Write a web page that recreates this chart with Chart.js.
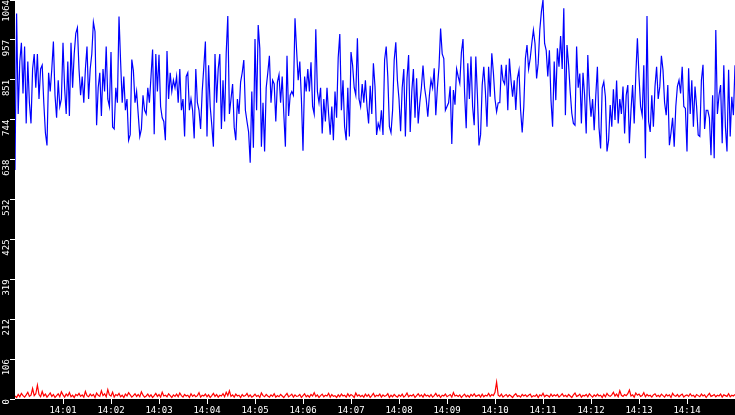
<!DOCTYPE html>
<html>
<head>
<meta charset="utf-8">
<script src="https://cdn.jsdelivr.net/npm/chart.js@4.4.1/dist/chart.umd.min.js"></script>
<style>
  html, body { margin: 0; padding: 0; background: #000; }
  #wrap { width: 735px; height: 415px; }
</style>
</head>
<body>
<div id="wrap"><canvas id="trafficChart" width="735" height="415"></canvas></div>
<script>
// one sample every 2 s, 14:00:00 -> 14:15:00
const SAMPLE_STEP = 2;

const blueValues = [
    611, 1028, 760, 900, 950, 815, 940, 735, 900, 790,
    735, 880, 920, 830, 920, 800, 880, 890, 790, 710,
    676, 870, 820, 880, 953, 810, 750, 850, 780, 800,
    950, 830, 760, 900, 755, 950, 830, 920, 975, 990,
    880, 810, 860, 790, 880, 940, 800, 880, 920, 1005,
    980, 730, 830, 870, 755, 880, 820, 940, 800, 780,
    925, 725, 720, 830, 790, 1020, 900, 790, 860, 770,
    800, 690, 705, 905, 875, 790, 820, 760, 700, 720,
    810, 770, 760, 830, 790, 860, 932, 706, 920, 820,
    918, 780, 750, 740, 690, 928, 800, 870, 820, 850,
    830, 860, 790, 880, 770, 800, 700, 860, 870, 770,
    800, 770, 695,
    880, 790, 770, 720, 820, 885, 953, 700, 890, 780,
    730, 673, 920, 790, 880, 920, 720, 850, 740, 922,
    1021, 760, 800, 840, 725, 690, 800, 760, 845, 870,
    904, 770, 740, 712, 630, 820, 670, 960, 770, 997,
    935, 673, 790, 660, 830, 870, 915, 790, 850, 840,
    740, 845, 865, 790, 860, 760, 673, 915, 755, 810,
    820, 810, 1015, 930, 850, 900, 800, 662, 860, 820,
    880, 820, 898, 780, 760, 986, 820, 790, 830, 708,
    800, 740, 830, 760, 705, 780, 690, 820, 750, 910,
    973, 770, 850, 726, 690, 830, 700, 925, 890, 830,
    810, 962, 800, 780, 840, 790, 850, 780, 735, 835,
    760, 895,
    833, 704, 735, 720, 770, 704, 904, 940, 860, 726,
    710, 770, 904, 951, 850, 800, 714, 830, 880, 700,
    855, 917, 712, 820, 880, 750, 855, 735, 790, 830,
    889, 830, 800, 753, 810, 851, 830, 882, 757, 830,
    886, 988, 920, 908, 770, 780, 790, 834, 680, 824,
    785, 880, 860, 842, 924, 960, 815, 722, 895, 800,
    913, 780, 730, 913, 810, 676, 705, 837, 886, 820,
    726, 886, 806, 922, 870, 800, 766, 790, 790, 891,
    850, 840, 891, 770, 908, 850, 806, 850, 771, 855,
    877, 770, 711, 780, 908, 944, 880, 908, 948, 984,
    948, 855, 895, 984, 1033, 1064, 948, 930, 860, 930,
    797, 726, 900,
    797, 935, 886, 968, 880, 1042, 757, 944, 891, 820,
    762, 735, 730, 940, 830, 868, 735, 870, 810, 708,
    917, 810, 753, 800, 717, 810, 886, 724, 668, 830,
    846, 806, 660, 690, 784, 726, 826, 744, 849, 735,
    800, 760, 833, 708, 810, 837, 682, 770, 837, 735,
    864, 962, 860, 780, 757, 890, 642, 1021, 740, 712,
    810, 726, 833, 886, 800, 833, 915, 877, 790, 757,
    837, 677, 710, 750, 673, 780, 834, 850, 815, 886,
    780, 775, 660, 882, 760, 850, 726, 833, 780, 704,
    700, 850, 891, 720, 770, 770, 750, 650, 810, 642,
    984, 760, 810, 837, 682, 890, 726, 660, 878, 700,
    806, 757, 890
];

const redValues = [
    8, 4, 12, 6, 15, 9, 5, 11, 18, 7, 10, 28, 9, 14, 37, 12, 6, 20, 8, 13,
    5, 10, 16, 7, 12, 4, 9, 14, 6, 19, 11, 5, 13, 8, 17, 6, 10, 4, 12, 9,
    15, 7, 11, 5, 20, 9, 6, 13, 8, 12, 4, 16, 10, 7, 22, 9, 14, 6, 25, 11,
    8, 18, 5, 12, 9, 15, 6, 10, 4, 13, 8, 17, 11, 5, 9, 14, 7, 12, 6, 19,
    10, 5, 8, 13, 6, 11, 4, 9, 15, 7, 12, 5, 18, 8, 10, 6, 14, 9, 4, 11,
    7, 13, 6, 16, 9, 5, 12, 8, 10, 4, 14, 7, 11, 6, 9, 17, 5, 10, 8, 13,
    6, 11, 4, 9, 15, 7, 12, 5, 10, 8, 14, 6, 18, 9, 22, 7, 11, 5, 13, 8,
    10, 4, 12, 7, 9, 15, 6, 11, 5, 8, 13, 7, 10, 4, 16, 9, 6, 12, 8, 5,
    11, 7, 14, 5, 9, 6, 12, 8, 4, 10, 15, 6, 9, 13, 5, 11, 7, 8, 12, 4,
    9, 14, 6, 10, 5, 12, 8, 17, 7, 11, 4, 9, 13, 6, 10, 8, 15, 5, 12, 7,
    9, 4, 11, 6, 13, 8, 10, 5, 14, 7, 12, 9, 4, 16, 8, 11, 6, 10, 5, 13,
    7, 12, 4, 9, 15, 6, 10, 8, 13, 5, 11, 7, 9, 14, 4, 10, 6, 12, 8, 5,
    11, 7, 13, 5, 9, 16, 6, 10, 8, 12, 4, 9, 14, 7, 11, 5, 13, 8, 10, 6,
    12, 5, 9, 15, 7, 11, 4, 10, 8, 13, 6, 9, 12, 5, 17, 8, 10, 7, 11, 4,
    9, 13, 6, 10, 5, 12, 8, 14, 7, 9, 11, 5, 13, 6, 10, 8, 15, 7, 12, 9,
    18, 45, 10, 7, 13, 5, 9, 12, 6, 11, 8, 4, 10, 14, 7, 9, 5, 12, 8, 11,
    6, 10, 13, 5, 9, 7, 12, 4, 11, 8, 15, 6, 10, 9, 5, 13, 7, 11, 8, 12,
    5, 9, 14, 7, 10, 6, 12, 8, 4, 11, 16, 7, 9, 13, 5, 10, 8, 12, 6, 14,
    9, 5, 11, 7, 13, 8, 10, 4, 12, 6, 15, 9, 7, 11, 18, 8, 13, 6, 22, 10,
    7, 12, 9, 14, 24, 8, 11, 5, 16, 10, 13, 7, 9, 17, 6, 12, 8, 10, 5, 11,
    14, 7, 10, 6, 13, 9, 5, 12, 8, 11, 4, 15, 9, 7, 12, 6, 10, 13, 5, 9,
    11, 7, 14, 8, 10, 5, 12, 9, 6, 13, 8, 11, 4, 10, 15, 7, 9, 12, 6, 10,
    8, 13, 5, 11, 9, 7, 14, 6, 10, 8, 12
];

const xTickSeconds = [60, 120, 180, 240, 300, 360, 420, 480, 540, 600, 660, 720, 780, 840];
const xTickLabels = ['14:01', '14:02', '14:03', '14:04', '14:05', '14:06', '14:07',
                     '14:08', '14:09', '14:10', '14:11', '14:12', '14:13', '14:14'];
const yTickValues = [0, 106.4, 212.8, 319.2, 425.6, 532, 638.4, 744.8, 851.2, 957.6, 1064];
const yTickLabels = ['0', '106', '212', '319', '425', '532', '638', '744', '851', '957', '1064'];

const timeLabels = blueValues.map((v, i) => i * SAMPLE_STEP);

// black frame, white plot area
const plotBackground = {
    id: 'plotBackground',
    beforeDraw(chart) {
        const { ctx, chartArea: a, width, height } = chart;
        ctx.save();
        ctx.fillStyle = '#000';
        ctx.fillRect(0, 0, width, height);
        ctx.fillStyle = '#fff';
        ctx.fillRect(a.left, a.top, a.right - a.left, a.bottom - a.top);
        ctx.restore();
    }
};

function initializeChart() {
    const ctx = document.getElementById('trafficChart').getContext('2d');
    Chart.defaults.font.family = "'DejaVu Sans Mono', monospace";
    Chart.defaults.font.size = 9;

    const axisGrid = {
        drawOnChartArea: false,
        drawTicks: true,
        tickLength: 5,
        color: '#fff',
        tickColor: '#fff',
        tickWidth: 1
    };

    const config = {
        type: 'line',
        data: {
            labels: timeLabels,
            datasets: [{
                data: blueValues,
                borderColor: '#0000ff',
                borderWidth: 1.2,
                pointRadius: 0,
                tension: 0
            }, {
                data: redValues,
                borderColor: '#ff0000',
                borderWidth: 1.2,
                pointRadius: 0,
                tension: 0
            }]
        },
        options: {
            responsive: false,
            animation: false,
            layout: { padding: 0, autoPadding: false },
            plugins: {
                legend: { display: false },
                tooltip: { enabled: false }
            },
            scales: {
                x: {
                    type: 'linear',
                    min: 0,
                    max: 900,
                    afterBuildTicks: scale => {
                        scale.ticks = xTickSeconds.map(v => ({ value: v }));
                    },
                    afterFit: scale => {
                        scale.height = 16;
                        scale.paddingLeft = 0;
                        scale.paddingRight = 0;
                    },
                    grid: axisGrid,
                    border: { display: false },
                    ticks: {
                        color: '#fff',
                        padding: 1,
                        maxRotation: 0,
                        autoSkip: false,
                        callback: (value, index) => xTickLabels[index]
                    }
                },
                y: {
                    min: 0,
                    max: 1064,
                    afterBuildTicks: scale => {
                        scale.ticks = yTickValues.map(v => ({ value: v }));
                    },
                    afterFit: scale => {
                        scale.width = 15;
                        scale.paddingTop = 0;
                        scale.paddingBottom = 0;
                    },
                    grid: axisGrid,
                    border: { display: false },
                    ticks: {
                        color: '#fff',
                        padding: 3,
                        minRotation: 90,
                        maxRotation: 90,
                        autoSkip: false,
                        callback: (value, index) => yTickLabels[index]
                    }
                }
            }
        },
        plugins: [plotBackground]
    };
    new Chart(ctx, config);
}

if (document.readyState === 'loading') {
    document.addEventListener('DOMContentLoaded', initializeChart);
} else {
    initializeChart();
}
</script>
</body>
</html>
